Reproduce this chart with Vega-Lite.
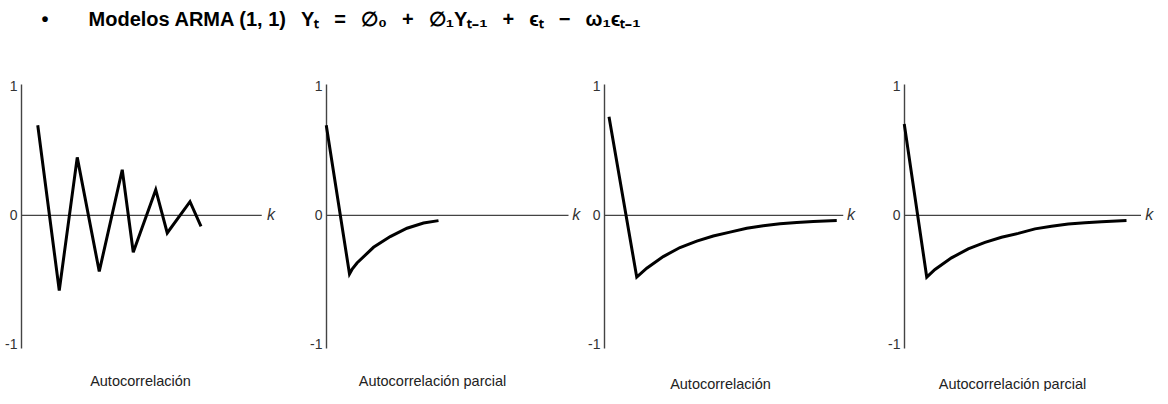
{
  "$schema": "https://vega.github.io/schema/vega-lite/v6.json",
  "padding": {"left": 4, "top": 9, "right": 0, "bottom": 0},
  "bounds": "flush",
  "spacing": 0,
  "title": {
    "text": "•\u2003\u2003Modelos ARMA (1, 1)\u2002\u2005Yₜ\u2002\u2005=\u2002\u2005∅₀\u2002\u2005+\u2002\u2005∅₁Yₜ₋₁\u2002\u2005+\u2002\u2005ϵₜ\u2002\u2005−\u2002\u2005ω₁ϵₜ₋₁",
    "anchor": "start",
    "dx": 37,
    "offset": 50,
    "font": "Liberation Sans",
    "fontSize": 20,
    "fontWeight": "bold",
    "color": "#000000"
  },
  "config": {
    "view": {"stroke": null},
    "axisY": {
      "title": null,
      "ticks": false,
      "grid": false,
      "domainColor": "#444444",
      "domainWidth": 1.4,
      "labelFont": "Liberation Sans",
      "labelFontSize": 14,
      "labelColor": "#333333",
      "labelPadding": 4
    },
    "axisX": {
      "domain": false,
      "ticks": false,
      "labels": false,
      "grid": false,
      "titleFont": "Liberation Sans",
      "titleFontSize": 14.5,
      "titleFontWeight": "normal",
      "titleColor": "#222222",
      "titleBaseline": "middle",
      "titleAlign": "center"
    }
  },
  "datasets": {
    "zero": [
      {"panel": 1, "x": 0, "x2": 9.63, "y": 0},
      {"panel": 2, "x": 0, "x2": 9.7, "y": 0},
      {"panel": 3, "x": 0, "x2": 9.57, "y": 0},
      {"panel": 4, "x": 0, "x2": 9.48, "y": 0}
    ],
    "klab": [
      {"panel": 1, "x": 9.84, "y": 0, "t": "k"},
      {"panel": 2, "x": 9.85, "y": 0, "t": "k"},
      {"panel": 3, "x": 9.72, "y": 0, "t": "k"},
      {"panel": 4, "x": 9.65, "y": 0, "t": "k"}
    ],
    "series": [
      {"panel": 1, "i": 1, "x": 0.67, "y": 0.70},
      {"panel": 1, "i": 2, "x": 1.53, "y": -0.584},
      {"panel": 1, "i": 3, "x": 2.25, "y": 0.45},
      {"panel": 1, "i": 4, "x": 3.13, "y": -0.436},
      {"panel": 1, "i": 5, "x": 4.05, "y": 0.354},
      {"panel": 1, "i": 6, "x": 4.49, "y": -0.287},
      {"panel": 1, "i": 7, "x": 5.39, "y": 0.199},
      {"panel": 1, "i": 8, "x": 5.85, "y": -0.137},
      {"panel": 1, "i": 9, "x": 6.76, "y": 0.106},
      {"panel": 1, "i": 10, "x": 7.2, "y": -0.085},

      {"panel": 2, "i": 1, "x": 0.01, "y": 0.70},
      {"panel": 2, "i": 2, "x": 0.94, "y": -0.455},
      {"panel": 2, "i": 3, "x": 1.04, "y": -0.42},
      {"panel": 2, "i": 4, "x": 1.24, "y": -0.37},
      {"panel": 2, "i": 5, "x": 1.9, "y": -0.248},
      {"panel": 2, "i": 6, "x": 2.57, "y": -0.165},
      {"panel": 2, "i": 7, "x": 3.24, "y": -0.10},
      {"panel": 2, "i": 8, "x": 3.9, "y": -0.06},
      {"panel": 2, "i": 9, "x": 4.5, "y": -0.041},

      {"panel": 3, "i": 1, "x": 0.2, "y": 0.765},
      {"panel": 3, "i": 2, "x": 1.31, "y": -0.48},
      {"panel": 3, "i": 3, "x": 1.71, "y": -0.41},
      {"panel": 3, "i": 4, "x": 2.37, "y": -0.32},
      {"panel": 3, "i": 5, "x": 3.04, "y": -0.25},
      {"panel": 3, "i": 6, "x": 3.71, "y": -0.20},
      {"panel": 3, "i": 7, "x": 4.37, "y": -0.16},
      {"panel": 3, "i": 8, "x": 5.04, "y": -0.13},
      {"panel": 3, "i": 9, "x": 5.71, "y": -0.10},
      {"panel": 3, "i": 10, "x": 6.37, "y": -0.08},
      {"panel": 3, "i": 11, "x": 7.04, "y": -0.065},
      {"panel": 3, "i": 12, "x": 7.71, "y": -0.055},
      {"panel": 3, "i": 13, "x": 8.37, "y": -0.047},
      {"panel": 3, "i": 14, "x": 9.31, "y": -0.04},

      {"panel": 4, "i": 1, "x": 0.01, "y": 0.71},
      {"panel": 4, "i": 2, "x": 0.91, "y": -0.48},
      {"panel": 4, "i": 3, "x": 1.24, "y": -0.42},
      {"panel": 4, "i": 4, "x": 1.9, "y": -0.33},
      {"panel": 4, "i": 5, "x": 2.57, "y": -0.26},
      {"panel": 4, "i": 6, "x": 3.24, "y": -0.21},
      {"panel": 4, "i": 7, "x": 3.9, "y": -0.17},
      {"panel": 4, "i": 8, "x": 4.57, "y": -0.14},
      {"panel": 4, "i": 9, "x": 5.24, "y": -0.105},
      {"panel": 4, "i": 10, "x": 5.9, "y": -0.085},
      {"panel": 4, "i": 11, "x": 6.57, "y": -0.067},
      {"panel": 4, "i": 12, "x": 7.24, "y": -0.057},
      {"panel": 4, "i": 13, "x": 7.9, "y": -0.049},
      {"panel": 4, "i": 14, "x": 8.9, "y": -0.04}
    ]
  },
  "hconcat": [
    {
      "width": 305,
      "height": 264,
      "encoding": {
        "x": {"field": "x", "type": "quantitative", "scale": {"domain": [0, 12.2], "nice": false}, "axis": {"title": "Autocorrelación", "titleX": 119, "titleY": 33}},
        "y": {"field": "y", "type": "quantitative", "scale": {"domain": [-1.03, 1.02], "nice": false}, "axis": {"values": [-1, 0, 1], "labelExpr": "'' + datum.value"}}
      },
      "layer": [
        {"data": {"name": "zero"}, "transform": [{"filter": "datum.panel == 1"}], "mark": {"type": "rule", "color": "#444444", "strokeWidth": 1.4}, "encoding": {"x2": {"field": "x2"}}},
        {"data": {"name": "series"}, "transform": [{"filter": "datum.panel == 1"}], "mark": {"type": "line", "color": "#000000", "strokeWidth": 3}, "encoding": {"order": {"field": "i", "type": "quantitative"}}},
        {"data": {"name": "klab"}, "transform": [{"filter": "datum.panel == 1"}], "mark": {"type": "text", "align": "left", "baseline": "middle", "font": "Liberation Sans", "fontSize": 16, "fontStyle": "italic", "color": "#333333"}, "encoding": {"text": {"field": "t"}}}
      ]
    },
    {
      "width": 278,
      "height": 264,
      "encoding": {
        "x": {"field": "x", "type": "quantitative", "scale": {"domain": [0, 11.12], "nice": false}, "axis": {"title": "Autocorrelación parcial", "titleX": 106, "titleY": 33}},
        "y": {"field": "y", "type": "quantitative", "scale": {"domain": [-1.03, 1.02], "nice": false}, "axis": {"values": [-1, 0, 1], "labelExpr": "'' + datum.value"}}
      },
      "layer": [
        {"data": {"name": "zero"}, "transform": [{"filter": "datum.panel == 2"}], "mark": {"type": "rule", "color": "#444444", "strokeWidth": 1.4}, "encoding": {"x2": {"field": "x2"}}},
        {"data": {"name": "series"}, "transform": [{"filter": "datum.panel == 2"}], "mark": {"type": "line", "color": "#000000", "strokeWidth": 3}, "encoding": {"order": {"field": "i", "type": "quantitative"}}},
        {"data": {"name": "klab"}, "transform": [{"filter": "datum.panel == 2"}], "mark": {"type": "text", "align": "left", "baseline": "middle", "font": "Liberation Sans", "fontSize": 16, "fontStyle": "italic", "color": "#333333"}, "encoding": {"text": {"field": "t"}}}
      ]
    },
    {
      "width": 300,
      "height": 264,
      "encoding": {
        "x": {"field": "x", "type": "quantitative", "scale": {"domain": [0, 12], "nice": false}, "axis": {"title": "Autocorrelación", "titleX": 116, "titleY": 36}},
        "y": {"field": "y", "type": "quantitative", "scale": {"domain": [-1.03, 1.02], "nice": false}, "axis": {"values": [-1, 0, 1], "labelExpr": "'' + datum.value"}}
      },
      "layer": [
        {"data": {"name": "zero"}, "transform": [{"filter": "datum.panel == 3"}], "mark": {"type": "rule", "color": "#444444", "strokeWidth": 1.4}, "encoding": {"x2": {"field": "x2"}}},
        {"data": {"name": "series"}, "transform": [{"filter": "datum.panel == 3"}], "mark": {"type": "line", "color": "#000000", "strokeWidth": 3}, "encoding": {"order": {"field": "i", "type": "quantitative"}}},
        {"data": {"name": "klab"}, "transform": [{"filter": "datum.panel == 3"}], "mark": {"type": "text", "align": "left", "baseline": "middle", "font": "Liberation Sans", "fontSize": 16, "fontStyle": "italic", "color": "#333333"}, "encoding": {"text": {"field": "t"}}}
      ]
    },
    {
      "width": 255,
      "height": 264,
      "encoding": {
        "x": {"field": "x", "type": "quantitative", "scale": {"domain": [0, 10.2], "nice": false}, "axis": {"title": "Autocorrelación parcial", "titleX": 108, "titleY": 36}},
        "y": {"field": "y", "type": "quantitative", "scale": {"domain": [-1.03, 1.02], "nice": false}, "axis": {"values": [-1, 0, 1], "labelExpr": "'' + datum.value"}}
      },
      "layer": [
        {"data": {"name": "zero"}, "transform": [{"filter": "datum.panel == 4"}], "mark": {"type": "rule", "color": "#444444", "strokeWidth": 1.4}, "encoding": {"x2": {"field": "x2"}}},
        {"data": {"name": "series"}, "transform": [{"filter": "datum.panel == 4"}], "mark": {"type": "line", "color": "#000000", "strokeWidth": 3}, "encoding": {"order": {"field": "i", "type": "quantitative"}}},
        {"data": {"name": "klab"}, "transform": [{"filter": "datum.panel == 4"}], "mark": {"type": "text", "align": "left", "baseline": "middle", "font": "Liberation Sans", "fontSize": 16, "fontStyle": "italic", "color": "#333333"}, "encoding": {"text": {"field": "t"}}}
      ]
    }
  ]
}
